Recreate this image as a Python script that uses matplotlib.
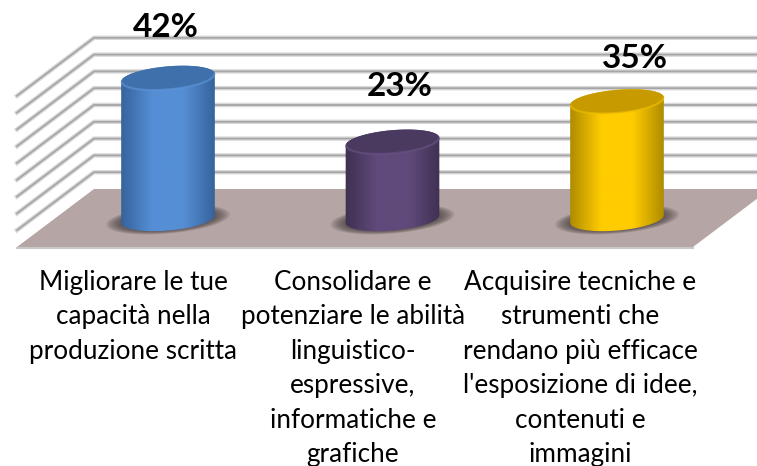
import numpy as np
import matplotlib
matplotlib.use('Agg')
import matplotlib.pyplot as plt
from matplotlib.colors import LinearSegmentedColormap
from matplotlib.patches import Polygon

categories = ['Migliorare le tue\ncapacità nella\nproduzione scritta',
              'Consolidare e\npotenziare le abilità\nlinguistico-\nespressive,\ninformatiche e\ngrafiche',
              "Acquisire tecniche e\nstrumenti che\nrendano più efficace\nl'esposizione di idee,\ncontenuti e\nimmagini"]
values = [42, 23, 35]
grid_levels = [0, 5, 10, 15, 20, 25, 30, 35, 40, 45]
edge_colors = ['#35629a', '#3f3051', '#ad8a00']
mid_colors = ['#558ed5', '#604a7b', '#ffcc00']
top_colors = ['#3f70ab', '#4a3a60', '#c79a00']
rim_colors = ['#5f98dc', '#6a5486', '#f2c200']

W, H = 757, 466
PX_CAT = 224.5      # px between bars
PX_PCT = 3.36       # px for one percent
X0, Y0 = 168, 219   # pixel of first bar base centre
RX, RY = 47, 11.5   # cylinder ellipse
TILT = np.radians(-5)
WALL_X, WALL_Y = 94, 189   # back left corner of the floor
DEPTH_X, DEPTH_Y = -77, 58


# helpers: pixel offsets -> data coords
def dx(px):
    return (px - X0) / PX_CAT


def dy(py):
    return (Y0 - py) / PX_PCT


def ellipse(cx, cy, rx, ry, t):
    # cx, cy in data coords, returns data coords
    ex = rx * np.cos(t) * np.cos(TILT) - ry * np.sin(t) * np.sin(TILT)
    ey = rx * np.cos(t) * np.sin(TILT) + ry * np.sin(t) * np.cos(TILT)
    return cx + ex / PX_CAT, cy - ey / PX_PCT


fig = plt.figure(figsize=(W / 100, H / 100), dpi=100)
ax = fig.add_axes([0, 0, 1, 1])
ax.set_xlim(dx(0), dx(W))
ax.set_ylim(dy(H), dy(0))
ax.axis('off')

# back wall and side wall lines
wall_shift = (Y0 - WALL_Y) / PX_PCT
for level in grid_levels[1:]:
    v = level + wall_shift
    xs = [dx(WALL_X + DEPTH_X), dx(WALL_X), dx(W)]
    ys = [v - DEPTH_Y / PX_PCT, v, v]
    ax.plot(xs, ys, color='#d9d9d9', lw=3.2, zorder=1, solid_joinstyle='miter')
    ax.plot(xs, ys, color='#a6a6a6', lw=1.3, zorder=1.1, solid_joinstyle='miter')

# floor
floor = [(dx(WALL_X), dy(WALL_Y)), (dx(W + 13), dy(WALL_Y)),
         (dx(W + 13 + DEPTH_X), dy(WALL_Y + DEPTH_Y)), (dx(WALL_X + DEPTH_X), dy(WALL_Y + DEPTH_Y))]
ax.add_patch(Polygon(floor, closed=True, facecolor='#b5a6a5', edgecolor='none', zorder=2))
ax.plot([dx(WALL_X + DEPTH_X), dx(W + DEPTH_X + 13)], [dy(WALL_Y + DEPTH_Y + 1)] * 2, color='#c8c8c8', lw=1.5, zorder=2)

t = np.linspace(0, 2 * np.pi, 200)
for i, val in enumerate(values):
    # soft shadow on the floor
    for k in np.linspace(1, 0.75, 8):
        sx, sy = ellipse(i, dy(Y0 + 0.5), 62 * k, 14 * k, t)
        ax.fill(sx, sy, color='#3f3535', alpha=0.14, lw=0, zorder=3)

    # body of the cylinder with gradient across
    cmap = LinearSegmentedColormap.from_list('c', [edge_colors[i], mid_colors[i], mid_colors[i], edge_colors[i]])
    bx, by = ellipse(i, 0, RX, RY, np.linspace(np.pi, 0, 100))
    tx, ty = ellipse(i, val, RX, RY, np.linspace(0, -np.pi, 100))
    body = Polygon(np.r_[np.c_[bx, by], np.c_[tx, ty]], closed=True, facecolor='none', edgecolor='none', zorder=4)
    ax.add_patch(body)
    grad = np.linspace(0, 1, 128)[None, :]
    im = ax.imshow(grad, cmap=cmap, aspect='auto', zorder=4,
                   extent=[i - (RX + 1) / PX_CAT, i + (RX + 1) / PX_CAT, -20, val + 10])
    im.set_clip_path(body)

    # top ellipse
    ex, ey = ellipse(i, val, RX, RY, t)
    ax.fill(ex, ey, color=top_colors[i], lw=0, zorder=5)
    rx_, ry_ = ellipse(i, val, RX - 0.5, RY, np.linspace(0.05, np.pi - 0.05, 80))
    ax.plot(rx_, ry_, color=rim_colors[i], lw=1.5, zorder=6, alpha=0.6)

    # percent label
    lab_y = [27, 86, 58][i]
    lab_x = [166, 400, 635][i]
    ax.text(dx(lab_x), dy(lab_y), f'{val}%', ha='center', va='center', fontsize=24,
            fontweight='bold', family='Lato', color='black', zorder=7)

# category labels
label_x = [133, 353, 580]
for i, label in enumerate(categories):
    ax.text(dx(label_x[i]), dy(270), label, ha='center', va='top', fontsize=18.8,
            family='Lato', color='black', linespacing=1.47, zorder=7)

ax.set_xlim(dx(0), dx(W))
ax.set_ylim(dy(H), dy(0))
fig.savefig('out.png', dpi=100, facecolor='white')
